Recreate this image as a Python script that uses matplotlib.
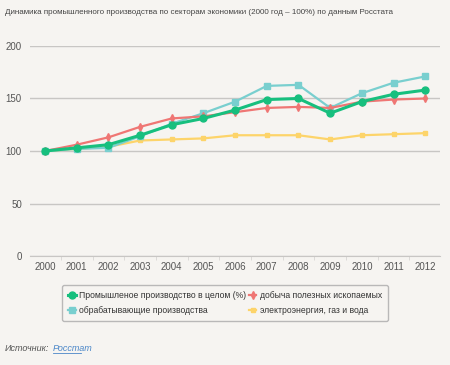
import numpy as np
import matplotlib
matplotlib.use('Agg')
from matplotlib import pyplot as plt

plt.rcParams['font.family'] = ['Liberation Sans', 'DejaVu Sans']

years = ['2000', '2001', '2002', '2003', '2004', '2005', '2006',
         '2007', '2008', '2009', '2010', '2011', '2012']
total = [100, 103, 106, 115, 125, 131, 139, 149, 150, 136, 147, 154, 158]
mining = [100, 106, 113, 123, 131, 133, 137, 141, 142, 141, 147, 149, 150]
manufacturing = [100, 102, 103, 114, 126, 136, 147, 162, 163, 141, 155, 165, 171]
utilities = [100, 102, 104, 110, 111, 112, 115, 115, 115, 111, 115, 116, 117]

labels = ['Промышленое производство в целом (%)',
          'добыча полезных ископаемых',
          'обрабатывающие производства',
          'электроэнергия, газ и вода']

bg = '#f6f4f1'
fig = plt.figure(figsize=(4.5, 3.65), dpi=100, facecolor=bg)
ax = fig.add_axes([0.067, 0.2986, 0.911, 0.5754], facecolor=bg)

x = np.arange(len(years))
series = [
    (manufacturing, '#79cfcf', 's', 4.5, 1.6, 2, labels[2]),
    (utilities, '#fdd46a', 's', 3.5, 1.6, 1, labels[3]),
    (mining, '#ef7674', 'd', 4, 1.6, 3, labels[1]),
    (total, '#17bf7e', 'o', 5, 2.2, 4, labels[0]),
]
handles = {}
for vals, color, marker, ms, lw, z, lab in series:
    h, = ax.plot(x, vals, '-', marker=marker, color=color, markersize=ms,
                 linewidth=lw, zorder=z, label=lab)
    handles[lab] = h

ax.set_xlim(-0.47, 12.47)
ax.set_ylim(0, 200)
ax.set_yticks([0, 50, 100, 150, 200])
ax.set_xticks(x)
ax.set_xticklabels(years)
ax.set_xticks(x[:-1] + 0.5, minor=True)
ax.grid(axis='y', color='#c8c6c4', linewidth=1)
ax.set_axisbelow(True)
for side in ['top', 'right', 'left']:
    ax.spines[side].set_visible(False)
ax.spines['bottom'].set_color('#c8c6c4')
ax.tick_params(axis='y', length=0, labelsize=7, colors='#555555', pad=6)
ax.tick_params(axis='x', which='major', length=0, labelsize=7, colors='#555555', pad=4)
ax.tick_params(axis='x', which='minor', length=3, color='#d8d6d4')

fig.text(0.011, 0.965, 'Динамика промышленного производства по секторам экономики '
         '(2000 год – 100%) по данным Росстата',
         fontsize=5.8, color='#444444', va='center')

# column-wise fill: row 1 = total, mining; row 2 = manufacturing, utilities
order = [labels[0], labels[2], labels[1], labels[3]]
leg = fig.legend([handles[l] for l in order], order, ncol=2,
                 loc='center', bbox_to_anchor=(0.5, 0.17),
                 fontsize=6.2, frameon=True, fancybox=True,
                 handlelength=0.9, handletextpad=0.4, columnspacing=0.3,
                 labelspacing=0.7, borderpad=0.7)
leg.get_frame().set_facecolor(bg)
leg.get_frame().set_edgecolor('#aaaaaa')
for t in leg.get_texts():
    t.set_color('#333333')

fig.text(0.011, 0.046, 'Источник:', fontsize=6.5, style='italic',
         color='#555555', va='center')
fig.text(0.118, 0.046, 'Росстат', fontsize=6.5, style='italic',
         color='#4a86c8', va='center')
fig.add_artist(plt.Line2D([0.118, 0.181], [0.033, 0.033], color='#4a86c8',
                          linewidth=0.6))

fig.savefig('out.png', dpi=100, facecolor=bg)
